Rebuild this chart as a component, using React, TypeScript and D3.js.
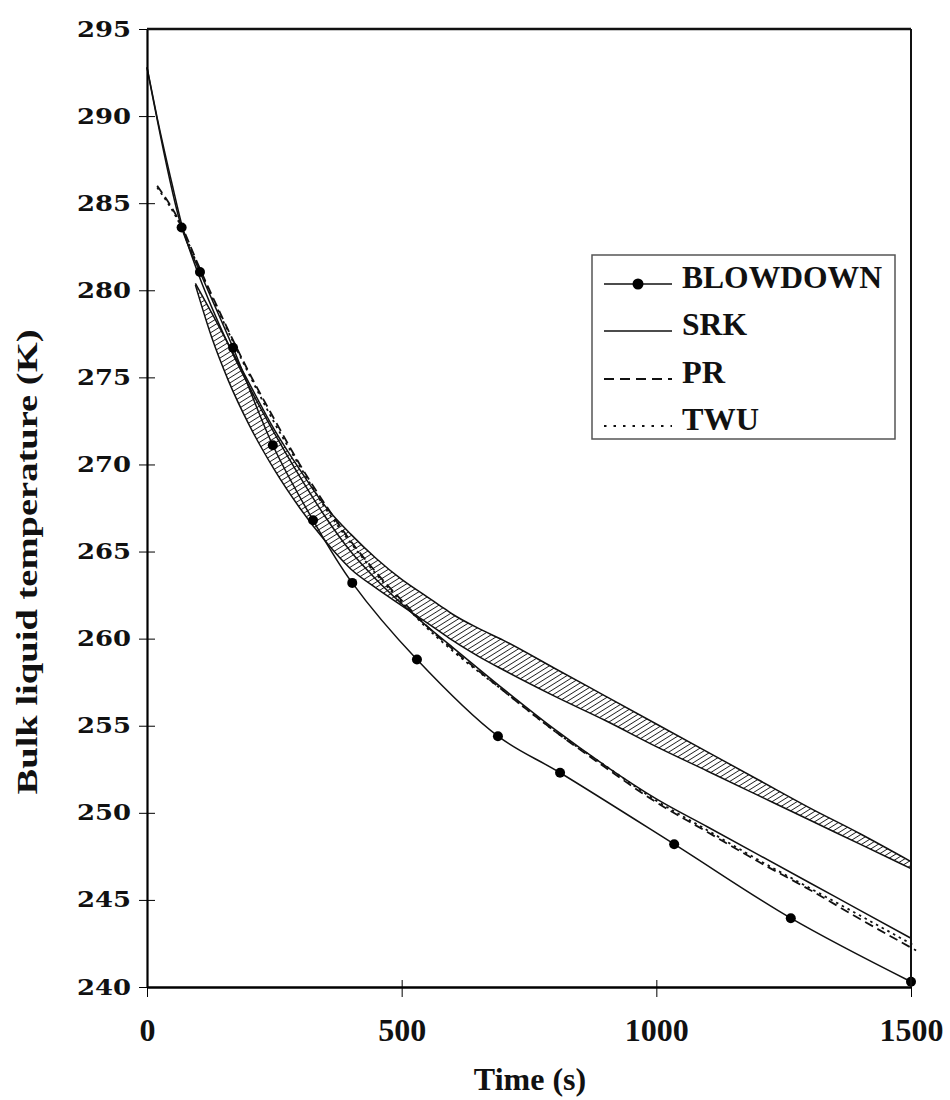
import React, { useEffect, useRef } from 'react';
import * as d3 from 'd3';

// values
const blowdownTime = [0, 68, 104, 169, 247, 326, 403, 530, 689, 811, 1035, 1264, 1500];
const blowdownTemp = [292.8, 283.6, 281.05, 276.7, 271.1, 266.8, 263.2, 258.8, 254.4, 252.3, 248.2, 243.95, 240.3];

const srkTime = [0, 20, 50, 68, 100, 150, 200, 250, 300, 350, 400, 450, 500, 550, 600, 700, 800, 900, 1000, 1100, 1200, 1300, 1400, 1500];
const srkTemp = [292.8, 289.9, 286.0, 283.8, 281.0, 277.5, 274.5, 271.8, 269.3, 267.0, 265.0, 263.4, 262.0, 260.7, 259.5, 257.1, 254.8, 252.7, 250.8, 249.2, 247.6, 246.0, 244.4, 242.8];

const prTime = [20, 68, 100, 150, 200, 250, 300, 350, 400, 450, 500, 550, 600, 700, 800, 900, 1000, 1100, 1200, 1300, 1400, 1510];
const prTemp = [286.0, 283.7, 281.5, 278.3, 275.3, 272.6, 270.0, 267.7, 265.6, 263.8, 262.2, 260.7, 259.4, 257.0, 254.7, 252.6, 250.6, 248.9, 247.2, 245.6, 243.9, 242.1];

const twuTime = [20, 68, 100, 150, 200, 250, 300, 350, 400, 450, 500, 550, 600, 700, 800, 900, 1000, 1100, 1200, 1300, 1400, 1505];
const twuTemp = [285.9, 283.6, 281.4, 278.2, 275.2, 272.4, 269.9, 267.5, 265.5, 263.7, 262.1, 260.6, 259.3, 257.0, 254.7, 252.7, 250.7, 249.0, 247.3, 245.7, 244.1, 242.4];

// hatched band (range of measured values)
const bandTime = [95, 127, 160, 200, 250, 300, 350, 400, 450, 500, 550, 575, 600, 650, 700, 800, 900, 1000, 1100, 1200, 1300, 1400, 1500];
const bandLow = [280.3, 277.3, 274.8, 272.3, 269.7, 267.5, 265.6, 264.0, 262.9, 261.9, 260.9, 260.4, 259.9, 259.0, 258.2, 256.7, 255.3, 253.8, 252.4, 251.0, 249.6, 248.2, 246.8];
const bandHigh = [280.4, 278.7, 276.9, 274.7, 272.0, 269.7, 267.6, 266.0, 264.6, 263.4, 262.4, 261.9, 261.4, 260.6, 259.9, 258.3, 256.7, 255.1, 253.5, 251.9, 250.3, 248.8, 247.2];

const xTicks = [0, 500, 1000, 1500];
const yTicks = [240, 245, 250, 255, 260, 265, 270, 275, 280, 285, 290, 295];

const legendNames = ['BLOWDOWN', 'SRK', 'PR', 'TWU'];
const legendWidths = [200, 65, 43, 77];

function App() {
  const ref = useRef(null);

  useEffect(() => {
    const svg = d3.select(ref.current);
    svg.selectAll('*').remove();

    const x = d3.scaleLinear().domain([0, 1500]).range([147, 911]);
    const y = d3.scaleLinear().domain([240, 295]).range([987, 29]);
    const serif = "'Liberation Serif', 'Times New Roman', serif";

    const defs = svg.append('defs');
    const pat = defs.append('pattern')
      .attr('id', 'hatch')
      .attr('patternUnits', 'userSpaceOnUse')
      .attr('width', 8)
      .attr('height', 4.4)
      .attr('patternTransform', 'rotate(-32)');
    pat.append('line')
      .attr('x1', 0).attr('x2', 8)
      .attr('y1', 2.2).attr('y2', 2.2)
      .attr('stroke', '#222').attr('stroke-width', 0.9);

    // band
    const bandRows = bandTime.map((t, i) => ({ t, lo: bandLow[i], hi: bandHigh[i] }));
    const area = d3.area()
      .x(d => x(d.t))
      .y0(d => y(d.lo))
      .y1(d => y(d.hi))
      .curve(d3.curveMonotoneX);
    svg.append('path').datum(bandRows)
      .attr('d', area)
      .attr('fill', 'url(#hatch)');
    const edge = (key) => d3.line()
      .x(d => x(d.t))
      .y(d => y(d[key]))
      .curve(d3.curveMonotoneX);
    ['lo', 'hi'].forEach(k => {
      svg.append('path').datum(bandRows)
        .attr('d', edge(k))
        .attr('fill', 'none').attr('stroke', '#111').attr('stroke-width', 1.5);
    });

    const series = [
      { t: srkTime, v: srkTemp, dash: null, w: 1.5, curve: d3.curveMonotoneX },
      { t: prTime, v: prTemp, dash: '9,5', w: 1.8, curve: d3.curveMonotoneX },
      { t: twuTime, v: twuTemp, dash: '2.5,4', w: 1.8, curve: d3.curveMonotoneX },
      { t: blowdownTime, v: blowdownTemp, dash: null, w: 1.5, curve: d3.curveCatmullRom.alpha(0.5) },
    ];
    series.forEach(s => {
      const line = d3.line()
        .x(d => x(d[0]))
        .y(d => y(d[1]))
        .curve(s.curve);
      svg.append('path')
        .datum(s.t.map((t, i) => [t, s.v[i]]))
        .attr('d', line)
        .attr('fill', 'none')
        .attr('stroke', '#111')
        .attr('stroke-width', s.w)
        .attr('stroke-dasharray', s.dash);
    });

    // blowdown markers (first point is the starting value, no marker)
    svg.append('g').selectAll('circle')
      .data(blowdownTime.slice(1).map((t, i) => [t, blowdownTemp[i + 1]]))
      .join('circle')
      .attr('cx', d => x(d[0]))
      .attr('cy', d => y(d[1]))
      .attr('r', 5)
      .attr('fill', '#000');

    // axes
    const yAxis = svg.append('g')
      .attr('transform', 'translate(147,0)')
      .call(d3.axisLeft(y).tickValues(yTicks).tickSize(8).tickSizeOuter(0).tickPadding(8).tickFormat(d3.format('d')));
    yAxis.select('.domain').attr('stroke-width', 2.2);
    yAxis.selectAll('.tick line').attr('x1', 8).attr('stroke-width', 1);
    yAxis.selectAll('text')
      .attr('font-family', "'DejaVu Serif', serif")
      .attr('font-weight', 'bold')
      .attr('font-size', 22)
      .attr('textLength', 54)
      .attr('lengthAdjust', 'spacingAndGlyphs')
      .attr('fill', '#111');

    const xAxis = svg.append('g')
      .attr('transform', 'translate(0,987)')
      .call(d3.axisBottom(x).tickValues(xTicks).tickSize(10).tickSizeOuter(0).tickFormat(d3.format('d')));
    xAxis.select('.domain').attr('stroke-width', 2.4);
    xAxis.selectAll('.tick line').attr('y1', -7).attr('stroke-width', 1);
    xAxis.selectAll('text')
      .attr('y', 54).attr('dy', 0)
      .attr('font-family', serif)
      .attr('font-weight', 'bold')
      .attr('font-size', 32)
      .attr('fill', '#111');

    // frame top/right
    svg.append('line')
      .attr('x1', x(0)).attr('x2', x(1500)).attr('y1', y(295)).attr('y2', y(295))
      .attr('stroke', '#111').attr('stroke-width', 2.4);
    svg.append('line')
      .attr('x1', x(1500)).attr('x2', x(1500)).attr('y1', y(295)).attr('y2', y(240))
      .attr('stroke', '#111').attr('stroke-width', 2);

    // titles
    svg.append('text')
      .attr('x', 530).attr('y', 1090)
      .attr('text-anchor', 'middle')
      .attr('font-family', serif).attr('font-weight', 'bold').attr('font-size', 32)
      .attr('fill', '#111')
      .text('Time (s)');
    svg.append('text')
      .attr('transform', 'translate(37,562) rotate(-90)')
      .attr('text-anchor', 'middle')
      .attr('font-family', serif).attr('font-weight', 'bold').attr('font-size', 30)
      .attr('textLength', 465).attr('lengthAdjust', 'spacingAndGlyphs')
      .attr('fill', '#111')
      .text('Bulk liquid temperature (K)');

    // legend
    const lg = svg.append('g');
    lg.append('rect')
      .attr('x', 592).attr('y', 255).attr('width', 303).attr('height', 184)
      .attr('fill', '#fff').attr('stroke', '#555').attr('stroke-width', 1.5);
    const rowBase = [288, 335, 383, 430];
    const dashes = [null, null, '10,6', '2.5,7'];
    legendNames.forEach((name, i) => {
      const ly = rowBase[i] - 4;
      lg.append('line')
        .attr('x1', 604).attr('x2', 672).attr('y1', ly).attr('y2', ly)
        .attr('stroke', '#111').attr('stroke-width', i >= 2 ? 2 : 1.5)
        .attr('stroke-dasharray', dashes[i]);
      if (i === 0) {
        lg.append('circle').attr('cx', 638).attr('cy', ly).attr('r', 5.5).attr('fill', '#000');
      }
      lg.append('text')
        .attr('x', 682).attr('y', rowBase[i])
        .attr('font-family', serif).attr('font-weight', 'bold').attr('font-size', 31)
        .attr('textLength', legendWidths[i]).attr('lengthAdjust', 'spacingAndGlyphs')
        .attr('fill', '#111')
        .text(name);
    });
  }, []);

  return (
    <svg ref={ref} width={950} height={1100}
      style={{ position: 'absolute', left: 0, top: 0, background: '#fff' }} />
  );
}

export default App;
